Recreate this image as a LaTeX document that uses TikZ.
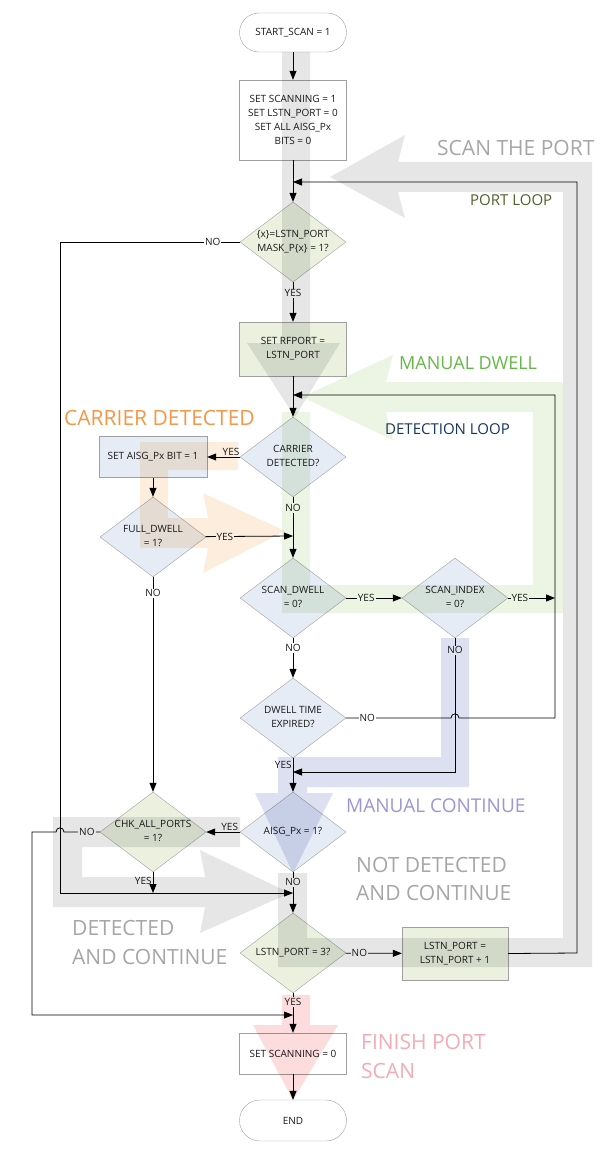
\documentclass[tikz,border=0pt]{standalone}
\usepackage{fontspec}
\setmainfont{Open Sans}
\usetikzlibrary{shapes.geometric,arrows.meta}

\definecolor{nodeline}{RGB}{160,160,160}
\definecolor{greenfill}{RGB}{235,241,222}
\definecolor{bluefill}{RGB}{230,236,245}
\definecolor{bandgray}{RGB}{230,230,230}
\definecolor{bandgreen}{RGB}{236,244,228}
\definecolor{bandblue}{RGB}{221,224,241}
\definecolor{bandorange}{RGB}{253,237,220}
\definecolor{bandpink}{RGB}{252,220,220}
\definecolor{graytext}{RGB}{166,166,166}

\newcommand{\dia}[1]{\makebox[0pt]{\begin{tabular}{@{}c@{}}#1\end{tabular}}}

\tikzset{
  flow/.style={draw=nodeline, fill=white, align=center, text=black!90,
    font=\fontsize{10}{14}\selectfont, inner sep=0pt},
  term/.style={flow, rounded corners=19.5pt, minimum width=107pt, minimum height=39pt},
  proc/.style={flow, minimum width=107pt},
  decision/.style={flow, diamond, minimum width=106pt, minimum height=80pt},
  lbl/.style={font=\fontsize{10}{12}\selectfont, fill=white, inner sep=1pt, text=black!90},
  conn/.style={draw=black, line width=0.8pt, -{Triangle[length=9pt,width=7pt]}},
  band/.style={fill=#1, draw=none},
  bigtext/.style={inner sep=0pt, anchor=west, align=left}
}

\begin{document}
\begin{tikzpicture}[x=1pt,y=-1pt]
  \useasboundingbox (0,0) rectangle (600,1161);

  \node[term] (start) at (293,32.5) {START\_SCAN = 1};
  \node[proc, minimum height=80pt] (init) at (293,120)
    {SET SCANNING = 1\\SET LSTN\_PORT = 0\\SET ALL AISG\_Px\\BITS = 0};
  \node[decision, fill=greenfill] (mask) at (293,242) {\dia{\{x\}=LSTN\_PORT\\MASK\_P\{x\} = 1?}};
  \node[proc, fill=greenfill, minimum height=54pt] (rfport) at (293,349) {SET RFPORT =\\LSTN\_PORT};
  \node[decision, fill=bluefill] (carrier) at (293,457) {\dia{CARRIER\\DETECTED?}};
  \node[proc, fill=bluefill, minimum width=108pt, minimum height=41pt] (aisgbit) at (153,457) {SET AISG\_Px BIT = 1};
  \node[decision, fill=bluefill] (fulldwell) at (153,537) {\dia{FULL\_DWELL\\= 1?}};
  \node[decision, fill=bluefill] (scandwell) at (293,598) {\dia{SCAN\_DWELL\\= 0?}};
  \node[decision, fill=bluefill] (scanidx) at (455,598) {\dia{SCAN\_INDEX\\= 0?}};
  \node[decision, fill=bluefill] (dwell) at (293,718) {\dia{DWELL TIME\\EXPIRED?}};
  \node[decision, fill=bluefill] (aisg) at (293,832) {\dia{AISG\_Px = 1?}};
  \node[decision, fill=greenfill] (chk) at (153,832) {\dia{CHK\_ALL\_PORTS\\= 1?}};
  \node[decision, fill=greenfill] (lstn3) at (293,953) {\dia{LSTN\_PORT = 3?}};
  \node[proc, fill=greenfill, minimum width=106pt, minimum height=53pt] (inc) at (455,953.5) {LSTN\_PORT =\\LSTN\_PORT + 1};
  \node[proc, minimum height=41pt] (scan0) at (293,1053.5) {SET SCANNING = 0};
  \node[term, minimum height=41pt, rounded corners=20.5pt] (end) at (293,1120.5) {END};

  \coordinate (portin) at (293,182);
  \coordinate (detin) at (293,395);
  \coordinate (fullin) at (293,536);
  \coordinate (dwellin) at (555,598);
  \coordinate (manin) at (293,772);
  \coordinate (chkin) at (153,893);
  \coordinate (skipin) at (293,893);
  \coordinate (finin) at (293,1015);

  \draw[conn] (start) -- (init);
  \draw[conn] (init) -- (mask);
  \draw[conn] (mask) -- node[lbl,pos=0.28]{YES} (rfport);
  \draw[conn] (rfport) -- (carrier);
  \draw[conn] (carrier) -- node[lbl,pos=0.18]{NO} (scandwell);
  \draw[conn] (carrier) -- node[lbl,above,fill=none,pos=0.27]{YES} (aisgbit);
  \draw[conn] (aisgbit) -- (fulldwell);
  \draw[conn] (fulldwell) -- node[lbl,pos=0.22]{YES} (fullin);
  \draw[conn] (fulldwell) -- node[lbl,pos=0.075]{NO} (chk);
  \draw[conn] (scandwell) -- node[lbl,pos=0.36]{YES} (scanidx);
  \draw[conn] (scanidx) -- node[lbl,pos=0.25]{YES} (dwellin);
  \draw[conn] (scandwell) -- node[lbl,pos=0.25]{NO} (dwell);
  \draw[conn] (dwell.east) -- node[lbl,pos=0.2]{NO} (451,718)
    .. controls (451,712.5) and (459,712.5) .. (459,718) -- (555,718) -- (555,395) -- (detin);
  \draw[conn] (scanidx.south) |- node[lbl,pos=0.045]{NO} (manin);
  \draw[conn] (dwell) -- node[lbl,left,fill=none,pos=0.2]{YES} (aisg);
  \draw[conn] (aisg) -- node[lbl,above,fill=none,pos=0.3]{YES} (chk);
  \draw[conn] (aisg) -- node[lbl,pos=0.25]{NO} (lstn3);
  \draw[conn] (chk) -- node[lbl,left,fill=none,pos=0.4]{YES} (chkin);
  \draw[conn] (mask.west) -- node[lbl,pos=0.15]{NO} (60,242) -- (60,893) -- (skipin);
  \draw[conn] (chk.west) -- node[lbl,pos=0.36]{NO} (64,832)
    .. controls (64,826.5) and (56,826.5) .. (56,832) -- (32,832) -- (32,1015) -- (finin);
  \draw[conn] (lstn3) -- node[lbl,pos=0.24]{NO} (inc);
  \draw[conn] (inc.east) -- (577,953) -- (577,182) -- (portin);
  \draw[conn] (lstn3) -- node[lbl,pos=0.22]{YES} (scan0);
  \draw[conn] (scan0) -- (end);

  \begin{scope}[blend mode=multiply]
    \fill[band=bandgray] (282,52) -- (310,52) -- (310,343) -- (340,343) -- (295,417)
      -- (247,343) -- (282,343) -- cycle;
    \fill[band=bandgray] (278,873) -- (307,873) -- (307,938) -- (563,938) -- (563,192)
      -- (398,192) -- (405,218) -- (330,177) -- (405,135) -- (398,162) -- (592,162)
      -- (592,967) -- (278,967) -- cycle;
    \fill[band=bandgreen] (282,412) -- (282,613) -- (563,613) -- (563,382) -- (386,382)
      -- (393,355) -- (302,397) -- (393,440) -- (386,412) -- (533,412) -- (533,585)
      -- (310,585) -- (310,412) -- cycle;
    \fill[band=bandorange] (238,442) -- (140,442) -- (140,548) -- (208,548) -- (203,573)
      -- (285,531) -- (203,493) -- (208,518) -- (168,518) -- (168,470) -- (238,470) -- cycle;
    \fill[band=bandblue] (441,638) -- (469,638) -- (469,787) -- (307,787) -- (307,793)
      -- (333,793) -- (293,873) -- (255,793) -- (278,793) -- (278,757) -- (441,757) -- cycle;
    \fill[band=bandgray] (240,817) -- (53,817) -- (53,907) -- (205,907) -- (200,933)
      -- (290,893) -- (200,850) -- (205,877) -- (82,877) -- (82,847) -- (240,847) -- cycle;
    \fill[band=bandpink] (282,995) -- (310,995) -- (310,1025) -- (338,1025) -- (293,1100)
      -- (253,1025) -- (282,1025) -- cycle;
  \end{scope}

  \node[bigtext, text=graytext, font=\fontsize{21}{29}\selectfont] (scantxt) at (437,148) {SCAN THE PORT};
  \node[bigtext, text={rgb,255:red,79;green,98;blue,40}, font=\fontsize{15}{20}\selectfont] (portlooptxt) at (470,200) {PORT LOOP};
  \node[bigtext, text={rgb,255:red,100;green,185;blue,70}, font=\fontsize{18}{24}\selectfont] (mdwelltxt) at (399,363) {MANUAL DWELL};
  \node[bigtext, text={rgb,255:red,23;green,54;blue,93}, font=\fontsize{15}{20}\selectfont] (detlooptxt) at (385,429) {DETECTION LOOP};
  \node[bigtext, text={rgb,255:red,247;green,150;blue,70}, font=\fontsize{21}{29}\selectfont] (carriertxt) at (64,418) {CARRIER DETECTED};
  \node[bigtext, text={rgb,255:red,155;green,150;blue,215}, font=\fontsize{19}{26}\selectfont] (mcontxt) at (346,806) {MANUAL CONTINUE};
  \node[bigtext, text=graytext, font=\fontsize{21}{28}\selectfont] (notdettxt) at (356,879) {NOT DETECTED\\AND CONTINUE};
  \node[bigtext, text=graytext, font=\fontsize{21}{29}\selectfont] (dettxt) at (72,942) {DETECTED\\AND CONTINUE};
  \node[bigtext, text={rgb,255:red,245;green,170;blue,180}, font=\fontsize{21}{29}\selectfont] (finishtxt) at (361,1056) {FINISH PORT\\SCAN};
\end{tikzpicture}
\end{document}
